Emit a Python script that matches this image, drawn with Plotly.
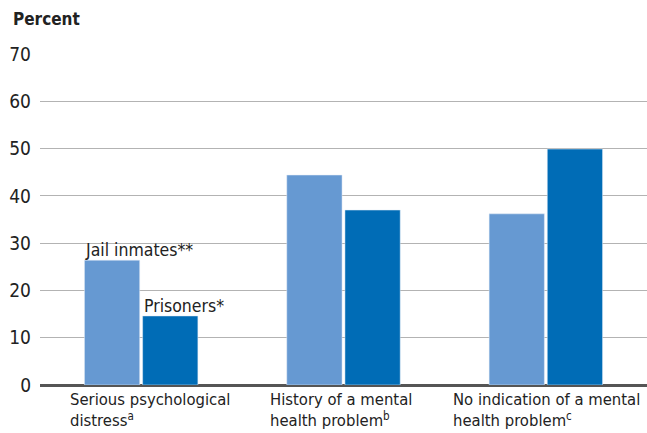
import plotly.graph_objects as go

categories = ["Serious psychological<br>distress<sup>a</sup>",
              "History of a mental<br>health problem<sup>b</sup>",
              "No indication of a mental<br>health problem<sup>c</sup>"]
jail = [26.4, 44.4, 36.2]
prison = [14.6, 37.0, 49.9]
series_names = ["Jail inmates**", "Prisoners*"]
y_ticks = [0, 10, 20, 30, 40, 50, 60, 70]

FONT = "DejaVu Sans Condensed, Liberation Sans Narrow, sans-serif"
LIGHT = "#6699d2"
DARK = "#006cb6"

x = list(range(len(categories)))
fig = go.Figure()
fig.add_bar(x=x, y=jail, name=series_names[0], marker_color=LIGHT)
fig.add_bar(x=x, y=prison, name=series_names[1], marker_color=DARK)

bargap = 0.425
half = (1 - bargap) / 2

fig.add_annotation(x=x[0] - half, y=jail[0], text=series_names[0], xanchor="left",
                   yanchor="bottom", showarrow=False, yshift=-2,
                   font=dict(family=FONT, size=17.5, color="#222"))
fig.add_annotation(x=x[0] + 0.004, y=prison[0], text=series_names[1], xanchor="left",
                   yanchor="bottom", showarrow=False, yshift=-2,
                   font=dict(family=FONT, size=17.5, color="#222"))

shifts = [9, -3, 1]
for xi, cat, s in zip(x, categories, shifts):
    fig.add_annotation(x=xi, y=0, text=cat, xanchor="center", yanchor="top", align="left",
                       showarrow=False, yshift=-3, xshift=s,
                       font=dict(family=FONT, size=16.5, color="#222"))

fig.add_annotation(xref="paper", yref="paper", x=-0.047, y=1.0, yshift=47,
                   text="<b>Percent</b>", xanchor="left", yanchor="top", showarrow=False,
                   font=dict(family=FONT, size=17, color="#222"))

fig.update_layout(
    width=647, height=433,
    margin=dict(l=40, r=0, t=54, b=48),
    paper_bgcolor="white", plot_bgcolor="white",
    showlegend=False,
    bargap=bargap, bargroupgap=0.05,
    font=dict(family=FONT, size=18, color="#222"),
)
fig.update_xaxes(range=[-0.5, 2.5], showticklabels=False, showgrid=False, zeroline=False,
                 showline=False)
fig.update_yaxes(range=[0, 70], tickvals=y_ticks, showgrid=True, gridcolor="#b3b3b3",
                 gridwidth=1, zeroline=True, zerolinecolor="#555555", zerolinewidth=3,
                 tickfont=dict(family=FONT, size=19, color="#222"), ticks="", ticklabelstandoff=8)

fig.write_html("out.html", config={"displayModeBar": False},
               post_script="document.body.style.margin='0';document.body.style.overflow='hidden';")
